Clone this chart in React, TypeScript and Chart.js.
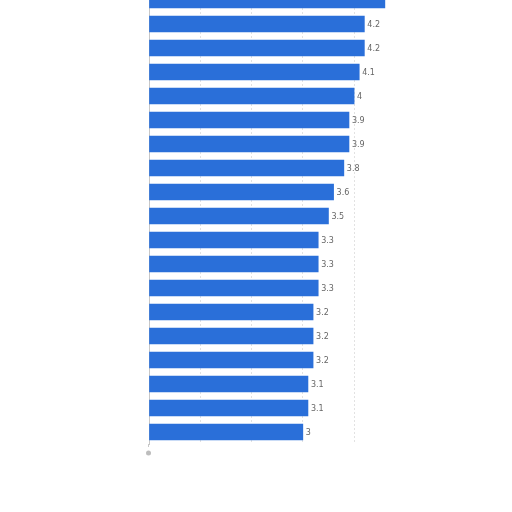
import React, { useEffect, useRef } from "react";
import { Chart, registerables } from "chart.js";

Chart.register(...registerables);

const categories = [
  "Item 1", "Item 2", "Item 3", "Item 4", "Item 5", "Item 6", "Item 7", "Item 8", "Item 9", "Item 10",
  "Item 11", "Item 12", "Item 13", "Item 14", "Item 15", "Item 16", "Item 17", "Item 18", "Item 19",
];
const values = [4.6, 4.2, 4.2, 4.1, 4, 3.9, 3.9, 3.8, 3.6, 3.5, 3.3, 3.3, 3.3, 3.2, 3.2, 3.2, 3.1, 3.1, 3.0];
const xTicks = [0, 1, 2, 3, 4];

const labelPlugin = {
  id: "valueLabels",
  afterDatasetsDraw(chart: any) {
    const ctx = chart.ctx;
    const meta = chart.getDatasetMeta(0);
    ctx.save();
    ctx.font = "8px 'DejaVu Sans', sans-serif";
    ctx.fillStyle = "#666";
    ctx.textAlign = "left";
    ctx.textBaseline = "middle";
    meta.data.forEach((bar: any, i: number) => {
      if (bar.y - 6 < chart.chartArea.top + 12) return; // label of the clipped top bar is out of view
      ctx.fillText(String(values[i]), bar.x + 3, bar.y + 1);
    });
    const { left, bottom } = chart.chartArea;
    ctx.strokeStyle = "#c8c8c8";
    ctx.lineWidth = 1;
    ctx.beginPath();
    ctx.moveTo(left - 0.5, bottom);
    ctx.lineTo(left - 0.5, bottom + 3);
    ctx.stroke();
    ctx.fillStyle = "#bdbdbd";
    ctx.beginPath();
    ctx.arc(left - 0.5, bottom + 9, 2.5, 0, Math.PI * 2);
    ctx.fill();
    ctx.restore();
  },
};

export default function App() {
  const ref = useRef<HTMLCanvasElement | null>(null);
  useEffect(() => {
    if (!ref.current) return;
    const chart = new Chart(ref.current, {
      type: "bar",
      data: {
        labels: categories,
        datasets: [
          {
            data: values,
            backgroundColor: "#2a6fd9",
            borderWidth: 0,
            barThickness: 16,
          },
        ],
      },
      options: {
        indexAxis: "y",
        animation: false,
        responsive: false,
        maintainAspectRatio: false,
        layout: { padding: { left: 149, right: 122, top: 0, bottom: 16 } },
        plugins: { legend: { display: false }, tooltip: { enabled: false } },
        scales: {
          x: {
            min: 0,
            max: 4.7,
            afterBuildTicks(axis: any) {
              axis.ticks = xTicks.map((v) => ({ value: v }));
            },
            ticks: { display: false },
            border: { display: false, dash: [2, 2] },
            grid: { color: "#e2e2e2", drawTicks: false },
          },
          y: {
            ticks: { display: false },
            grid: { display: false, drawTicks: false },
            border: { display: true, color: "#c8c8c8" },
          },
        },
      },
      plugins: [labelPlugin],
    });
    return () => chart.destroy();
  }, []);
  return (
    <div style={{ position: "absolute", left: 0, top: -12, width: 512, height: 472 }}>
      <canvas ref={ref} width={512} height={472} style={{ width: 512, height: 472 }} />
    </div>
  );
}
